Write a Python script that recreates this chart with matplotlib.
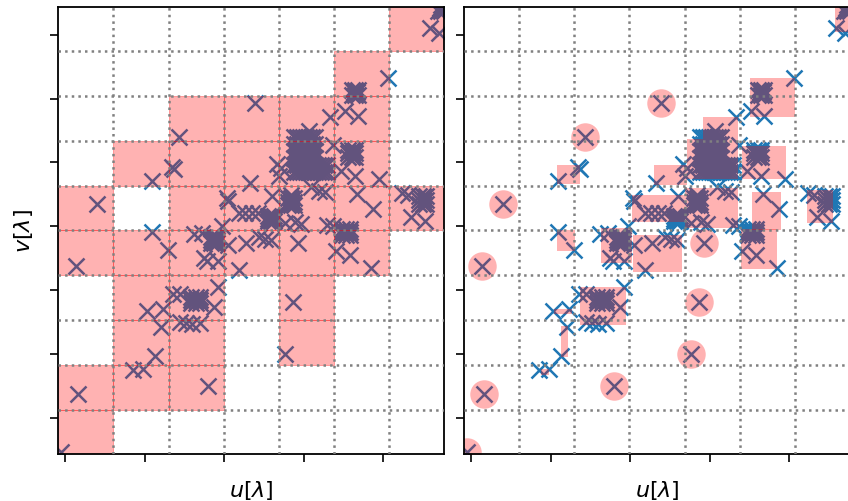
import numpy as np
import matplotlib
matplotlib.use("Agg")
import matplotlib.pyplot as plt
from matplotlib.patches import Rectangle

# uv-plane extent and gridding cell layout (7 x 10 cells)
u_max, v_max = 386.0, 447.3
n_u, n_v = 7, 10
du, dv = u_max / n_u, v_max / n_v

u_ticks = [7, 86.5, 166, 245.5, 325]
v_ticks = [36.5, 100.3, 164, 227.8, 291.5, 355.2, 419]

# isolated visibilities (circled in the adaptive panel)
iso_u = [2.5, 20, 18, 39, 121, 197, 240, 235, 227, 150]
iso_v = [2, 60, 188, 250, 317, 350.5, 211, 152, 100.5, 68]

# scattered visibilities
vis_u = [74.5, 84.5, 97, 103, 89, 105, 115, 121.5, 121.5, 127.5, 133.5, 141.5,
         155.5, 160, 113.5, 115.5, 94, 94, 109.5, 136, 144, 164, 146, 149, 160,
         170, 181, 188, 181, 187, 194, 200, 168.5, 170, 191.5, 219, 223, 221,
         213.5, 201, 207, 213, 226.5, 236.5, 242.5, 252.5, 260.5, 266.5, 269,
         274.5, 250.5, 274.5, 272, 287, 300, 330, 282.5, 296.5, 320.5, 299,
         314.5, 277.5, 291.5, 312.5, 343.5, 349.5, 352.5, 367, 372, 381]
vis_v = [84, 85, 98, 127.5, 143, 145, 160, 160, 132.5, 131.5, 130.5, 131.5,
         147.5, 167.5, 287, 284.5, 272.5, 222, 204, 220.5, 221.5, 228, 196, 193, 193,
         209, 184, 211, 241.5, 241.5, 241.5, 241.5, 256, 253, 271, 290, 285.5, 277.5,
         258, 217, 215.5, 214.5, 231.5, 232, 230.5, 267.5, 263.5, 262, 229.5,
         228, 323, 308.5, 336.5, 343, 337.5, 375.5, 283, 278, 275, 260,
         245.5, 203.5, 199.5, 186, 261.5, 259.5, 237.5, 233.5, 426, 421]

# dense baseline clusters
c1_u = [380, 383, 386, 381.5, 384.5, 387.5, 383, 386]
c1_v = [443, 443, 443, 446, 446, 446, 449, 449]

c2_u = [294, 297, 300, 295.5, 298.5, 294, 297, 300]
c2_v = [359, 359, 359, 361.5, 361.5, 364, 364, 364]

c3_u = [236, 239, 242, 245, 248, 251, 254, 257,
        236, 239, 242, 245, 248, 251, 254, 257,
        236, 239, 242, 245, 248, 251, 254, 257,
        236, 239, 242, 245, 248, 251, 254, 257,
        236, 239, 242, 245, 248, 251, 254, 257, 260, 263, 266, 269,
        236, 239, 242, 245, 248, 251, 254, 257, 260, 263, 266, 269]
c3_v = [317, 317, 317, 317, 317, 317, 317, 317,
        310, 310, 310, 310, 310, 310, 310, 310,
        303, 303, 303, 303, 303, 303, 303, 303,
        296, 296, 296, 296, 296, 296, 296, 296,
        289, 289, 289, 289, 289, 289, 289, 289, 289, 289, 289, 289,
        282, 282, 282, 282, 282, 282, 282, 282, 282, 282, 282, 282]

c4_u = [290, 293.5, 297, 290, 293.5, 297, 290, 293.5, 297]
c4_v = [297, 297, 297, 300.5, 300.5, 300.5, 304, 304, 304]

c5_u = [229.5, 232.5, 235.5, 229.5, 232.5, 235.5, 229.5, 232.5, 235.5, 232.5]
c5_v = [249, 249, 249, 252.5, 252.5, 252.5, 256, 256, 256, 259]

c6_u = [210, 213, 216, 210, 213, 216, 210, 213, 216]
c6_v = [233, 233, 233, 235.5, 235.5, 235.5, 238, 238, 238]

c7_u = [153, 156, 159, 153, 156, 159, 153, 156, 159]
c7_v = [211, 211, 211, 214, 214, 214, 217, 217, 217]

c8_u = [284, 288, 292, 284, 288, 292, 284, 288, 292]
c8_v = [219, 219, 219, 222, 222, 222, 225, 225, 225]

c9_u = [361, 364.5, 368, 361, 364.5, 368, 361, 364.5, 368]
c9_v = [250, 250, 250, 254, 254, 254, 258, 258, 258]

c10_u = [133, 137.5, 142, 133, 137.5, 142, 133, 137.5, 142]
c10_v = [151, 151, 151, 154, 154, 154, 157, 157, 157]

# adaptive cells: lower-left corner, width, height
cell_u0 = [371, 286, 238.7, 223.3, 277.7, 189.5, 93.3, 168, 221, 287.7, 342.7,
           277, 168.5, 137, 93.3, 115.5, 89.5, 96.7, 77]
cell_v0 = [422, 337, 315.3, 275.3, 275.3, 268.6, 270.3, 232, 226.3, 224.3, 231.3,
           185.3, 181.8, 190.8, 203.3, 129.3, 140, 97, 79]
cell_w = [20, 45, 35.6, 51, 44.3, 33, 22.7, 53, 53.3, 29.3, 26.6,
          35.7, 49.2, 30.7, 17.7, 46.5, 18.5, 7, 8]
cell_h = [30, 39, 21.7, 40, 32.7, 20.2, 18.3, 27.3, 40, 37.7, 33,
          40, 37, 35.5, 20.3, 38.3, 5, 31.6, 6]

all_u = np.concatenate([iso_u, vis_u, c1_u, c2_u, c3_u, c4_u, c5_u, c6_u,
                        c7_u, c8_u, c9_u, c10_u]).astype(float)
all_v = np.concatenate([iso_v, vis_v, c1_v, c2_v, c3_v, c4_v, c5_v, c6_v,
                        c7_v, c8_v, c9_v, c10_v]).astype(float)

pink = (1.0, 0.0, 0.0, 0.3)
dotted = dict(color="0.5", lw=1.8, ls=":", zorder=3)
W, H = 848, 502
fig = plt.figure(figsize=(W / 100, H / 100), dpi=100)
ax_l = fig.add_axes([58.3 / W, 46.7 / H, 386 / W, 447.8 / H])
ax_r = fig.add_axes([464 / W, 46.7 / H, 386 / W, 447.8 / H])


def base(ax):
    ax.plot(all_u, all_v, ls="none", marker="x", color="#1f77b4",
            ms=11.5, mew=1.8, zorder=1)
    for k in range(1, n_u):
        ax.axvline(k * du, **dotted)
    for k in range(1, n_v):
        ax.axhline(k * dv, **dotted)
    ax.set_xlim(0, u_max)
    ax.set_ylim(0, v_max)
    ax.set_xticks(u_ticks)
    ax.set_yticks(v_ticks)
    ax.tick_params(direction="out", length=6, width=1.2,
                   labelbottom=False, labelleft=False)
    for s in ax.spines.values():
        s.set_linewidth(1.3)
    ax.set_xlabel(r"$u[\lambda]$", fontsize=16, va="center")
    ax.xaxis.set_label_coords(0.5, -0.078)


# regular gridding: every cell holding at least one sample
base(ax_l)
iu = np.clip(np.floor(all_u / du).astype(int), 0, n_u - 1)
iv = np.clip(np.floor(all_v / dv).astype(int), 0, n_v - 1)
for i, j in sorted(set(zip(iu, iv))):
    ax_l.add_patch(Rectangle((i * du, j * dv), du, dv, fc=pink, ec=pink,
                             lw=0.7, zorder=2))
ax_l.set_ylabel(r"$v[\lambda]$", fontsize=16, va="center")
ax_l.yaxis.set_label_coords(-0.089, 0.5)

# adaptive gridding
base(ax_r)
for x0, y0, w, h in zip(cell_u0, cell_v0, cell_w, cell_h):
    ax_r.add_patch(Rectangle((x0, y0), w, h, fc=pink, ec="none", zorder=2))
ax_r.plot(iso_u, iso_v, ls="none", marker="o", ms=20.5, mfc=pink, mec="none",
          zorder=2)

fig.savefig("out.png", dpi=100)
